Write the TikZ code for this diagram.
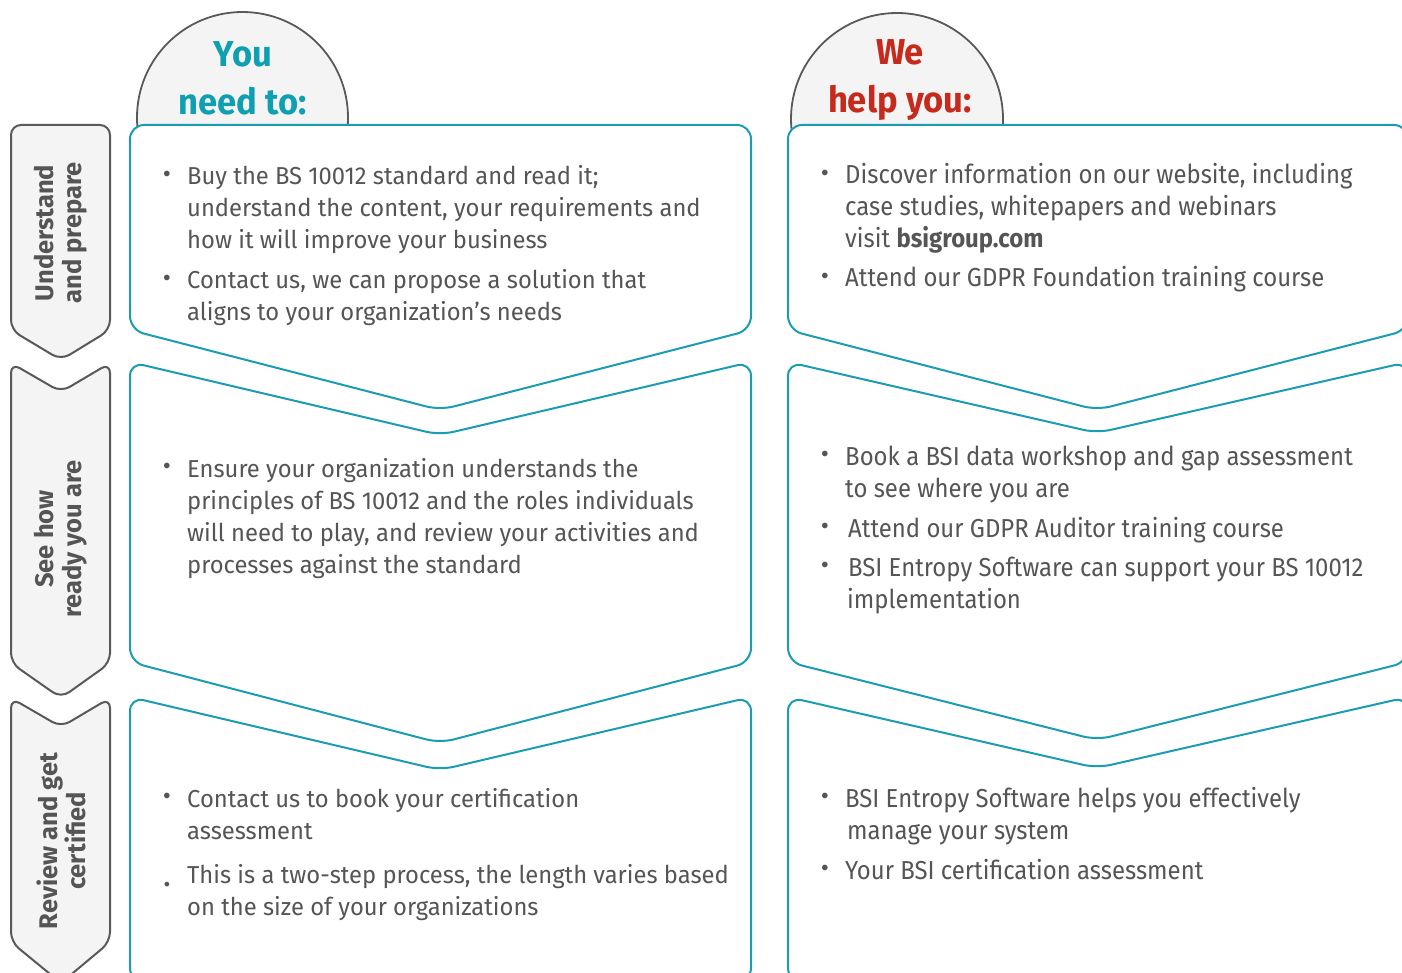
\documentclass[tikz,border=0pt]{standalone}
\usepackage{fontspec}
\setmainfont{Fira Sans}
\newfontfamily\bodyL{Fira Sans}[FakeStretch=0.97]
\newfontfamily\bodyR{Fira Sans}[FakeStretch=0.92]
\newfontfamily\headf{Fira Sans}[FakeStretch=0.96]
\definecolor{bsiteal}{HTML}{1A9DB3}
\definecolor{headteal}{HTML}{0E9FB1}
\definecolor{bsired}{HTML}{C52A1C}
\definecolor{txtgray}{HTML}{555555}
\definecolor{tabline}{HTML}{58595B}
\definecolor{tabfill}{HTML}{F4F4F4}
\tikzset{
  hdrcirc/.style={draw=tabline, fill=tabfill, line width=1.8pt},
  tabshape/.style={draw=tabline, fill=tabfill, line width=2pt, rounded corners=10pt},
  boxshape/.style={draw=bsiteal, fill=white, line width=2pt, rounded corners=14pt},
  bodyl/.style={text=txtgray, font=\bodyL\fontsize{24.5}{32}\selectfont, inner sep=0pt, anchor=base west},
  bodyr/.style={text=txtgray, font=\bodyR\fontsize{26}{32}\selectfont, inner sep=0pt, anchor=base west},
  bul/.style={text=txtgray, font=\fontsize{25}{25}\selectfont, inner sep=0pt},
  sidelabel/.style={text=txtgray, font=\bfseries\fontsize{25.5}{28}\selectfont, rotate=90, align=center, inner sep=0pt},
  headl/.style={text=headteal, font=\headf\bfseries\fontsize{36}{48}\selectfont, inner sep=0pt, anchor=base},
  headr/.style={text=bsired, font=\headf\bfseries\fontsize{36}{48}\selectfont, inner sep=0pt, anchor=base},
}
\newcommand\tl[4]{\node[bodyl] (#1) at (#2,#3) {#4};}
\newcommand\tr[4]{\node[bodyr] (#1) at (#2,#3) {#4};}
\newcommand\bu[3]{\node[bul] (#1) at (#2,#3) {\textbullet};}
\begin{document}
\begin{tikzpicture}[x=1pt,y=-1pt]
\useasboundingbox (0,0) rectangle (1402,973);
\clip (0,0) rectangle (1402,973);
% header circles
\draw[hdrcirc] (242.5,117.5) circle[radius=105.5pt];
\draw[hdrcirc] (897,119) circle[radius=106pt];
% side tabs
\path[tabshape] (11,230) -- (11,125) -- (110,125) -- (110,330) -- (61,360) -- (11,330) -- cycle;
\path[tabshape] (11,500) -- (11,363) -- (61,392) -- (110,363) -- (110,663) -- (61,698) -- (11,663) -- cycle;
\path[tabshape] (11,800) -- (11,698) -- (61,727) -- (110,698) -- (110,942) -- (61,983) -- (11,942) -- cycle;
% left boxes
\path[boxshape] (130,230) -- (130,125) -- (751,125) -- (751,330) -- (440,410) -- (130,330) -- cycle;
\path[boxshape] (130,500) -- (130,362) -- (440,435) -- (751,362) -- (751,662) -- (440,743) -- (130,662) -- cycle;
\path[boxshape] (130,800) -- (130,697) -- (440,770) -- (751,697) -- (751,982) -- (130,982) -- cycle;
% right boxes
\path[boxshape] (788,230) -- (788,125) -- (1408,125) -- (1408,330) -- (1097,410) -- (788,330) -- cycle;
\path[boxshape] (788,500) -- (788,362) -- (1097,433) -- (1408,362) -- (1408,662) -- (1097,740) -- (788,662) -- cycle;
\path[boxshape] (788,800) -- (788,697) -- (1097,768) -- (1408,697) -- (1408,982) -- (788,982) -- cycle;
% headings
\node[headl] (you) at (243,67) {You};
\node[headl] (need) at (243,115) {need to:};
\node[headr] (we) at (900,65) {We};
\node[headr] (help) at (900,113) {help you:};
% side labels
\node[sidelabel] (s1) at (61,233) {Understand\\and prepare};
\node[sidelabel] (s2) at (61,539) {See how\\ready you are};
\node[sidelabel] (s3) at (61,841) {Review and get\\certified};
% left column texts
\bu{b1}{167}{177}
\tl{l1}{187}{185}{Buy the BS 10012 standard and read it;}
\tl{l2}{187}{217}{understand the content, your requirements and}
\tl{l3}{187}{249}{how it will improve your business}
\bu{b2}{167}{281}
\tl{l4}{187}{289}{Contact us, we can propose a solution that}
\tl{l5}{187}{321}{aligns to your organization’s needs}
\bu{b3}{167}{469}
\tl{l6}{187}{477}{Ensure your organization understands the}
\tl{l7}{187}{509}{principles of BS 10012 and the roles individuals}
\tl{l8}{187}{541}{will need to play, and review your activities and}
\tl{l9}{187}{573}{processes against the standard}
\bu{b4}{167}{799}
\tl{l10}{187}{807}{Contact us to book your certification}
\tl{l11}{187}{839}{assessment}
\node[text=txtgray, font=\bfseries\fontsize{26}{26}\selectfont, inner sep=0pt, anchor=base] (b5) at (167,886) {.};
\tl{l12}{187}{883}{This is a two-step process, the length varies based}
\tl{l13}{187}{915}{on the size of your organizations}
% right column texts
\bu{c1}{825}{176}
\tr{r1}{845}{184}{Discover information on our website, including}
\tr{r2}{845}{216}{case studies, whitepapers and webinars}
\tr{r3}{845}{248}{visit \textbf{bsigroup.com}}
\bu{c2}{825}{279}
\tr{r4}{845}{287}{Attend our GDPR Foundation training course}
\bu{c3}{825}{457}
\tr{r5}{845}{465}{Book a BSI data workshop and gap assessment}
\tr{r6}{845}{497}{to see where you are}
\bu{c4}{825}{529}
\tr{r7}{848}{537}{Attend our GDPR Auditor training course}
\bu{c5}{825}{568}
\tr{r8}{848}{576}{BSI Entropy Software can support your BS 10012}
\tr{r9}{847}{608}{implementation}
\bu{c6}{825}{799}
\tr{r10}{845}{807}{BSI Entropy Software helps you effectively}
\tr{r11}{847}{839}{manage your system}
\bu{c7}{825}{871}
\tr{r12}{845}{879}{Your BSI certification assessment}
\end{tikzpicture}
\end{document}
